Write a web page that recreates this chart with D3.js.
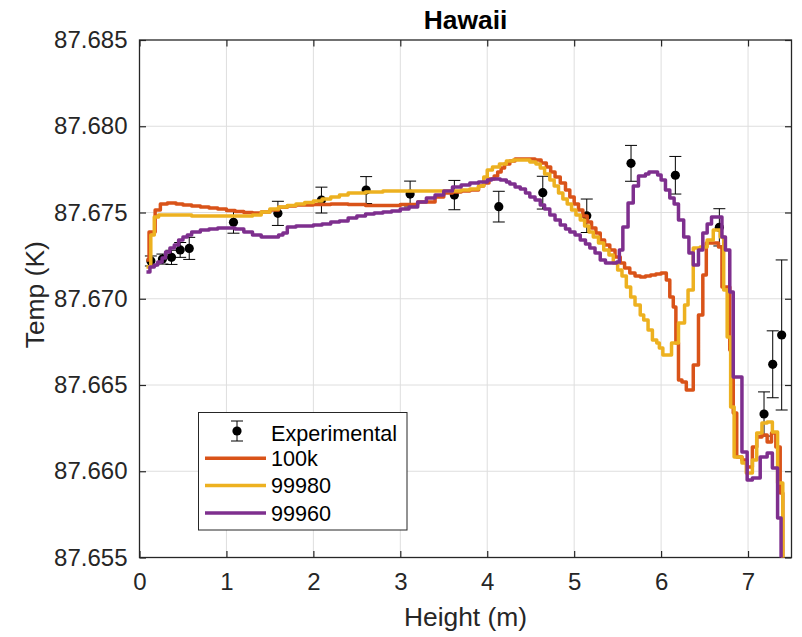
<!DOCTYPE html>
<html>
<head>
<meta charset="utf-8">
<script src="https://cdn.jsdelivr.net/npm/d3@7"></script>
<style>
  body { margin: 0; background: #fff; }
  svg { display: block; font-family: "Liberation Sans", Arial, Helvetica, sans-serif; }
</style>
</head>
<body>
<div id="chart"></div>
<script>
// experimental points (height m, temp K, error K)
const expHeight = [0.131, 0.264, 0.368, 0.468, 0.572, 1.081, 1.592, 2.093, 2.607, 3.113,
  3.622, 4.133, 4.639, 5.145, 5.654, 6.164, 6.670, 7.184, 7.284, 7.387];
const expTemp = [87.67219, 87.67230, 87.67240, 87.67283, 87.67292, 87.67443, 87.67495, 87.67572, 87.67630, 87.67607,
  87.67601, 87.67534, 87.67615, 87.67481, 87.67785, 87.67716, 87.67414, 87.66332, 87.66620, 87.66790];
const expErr = [0.00029, 0.00029, 0.00041, 0.00043, 0.00064, 0.00063, 0.00070, 0.00075, 0.00078, 0.00075,
  0.00085, 0.00089, 0.00095, 0.00097, 0.00104, 0.00109, 0.00108, 0.00128, 0.00194, 0.00435];

// simulated profiles [height, temp]
const run100k = [
  [0.08, 87.67225], [0.11, 87.67387], [0.18, 87.67515], [0.24, 87.67549], [0.32, 87.67555], [0.42, 87.67549],
  [0.5, 87.67543], [0.6, 87.67538], [0.7, 87.67532], [0.8, 87.67526], [0.9, 87.67520], [1.0, 87.67512],
  [1.1, 87.67506], [1.2, 87.67500], [1.3, 87.67497], [1.4, 87.67503], [1.5, 87.67515], [1.6, 87.67530],
  [1.7, 87.67538], [1.8, 87.67543], [2.0, 87.67546], [2.2, 87.67549], [2.4, 87.67546], [2.6, 87.67540],
  [2.8, 87.67540], [3.0, 87.67546], [3.2, 87.67561], [3.4, 87.67590], [3.5, 87.67613], [3.6, 87.67619],
  [3.7, 87.67625], [3.8, 87.67630], [3.9, 87.67654], [3.96, 87.67671], [4.02, 87.67694], [4.08, 87.67712],
  [4.12, 87.67735], [4.16, 87.67758], [4.2, 87.67781], [4.26, 87.67799], [4.32, 87.67810], [4.45, 87.67810],
  [4.55, 87.67804], [4.62, 87.67787], [4.68, 87.67764], [4.73, 87.67735], [4.78, 87.67706], [4.84, 87.67671],
  [4.9, 87.67630], [4.95, 87.67590], [5.0, 87.67549], [5.05, 87.67515], [5.1, 87.67480], [5.15, 87.67445],
  [5.2, 87.67410], [5.25, 87.67381], [5.3, 87.67341], [5.35, 87.67312], [5.41, 87.67283], [5.47, 87.67242],
  [5.53, 87.67207], [5.58, 87.67178], [5.64, 87.67149], [5.7, 87.67132], [5.76, 87.67126], [5.82, 87.67132],
  [5.88, 87.67138], [5.94, 87.67144], [6.0, 87.67149], [6.06, 87.67109], [6.1, 87.67010], [6.14, 87.66952],
  [6.17, 87.66743], [6.2, 87.66529], [6.24, 87.66517], [6.29, 87.66471], [6.37, 87.66616], [6.43, 87.66906],
  [6.48, 87.67138], [6.52, 87.67323], [6.6, 87.67323], [6.66, 87.67300], [6.7, 87.67068], [6.79, 87.66703],
  [6.83, 87.66338], [6.87, 87.66083], [6.93, 87.66065], [6.99, 87.66025], [7.05, 87.66141], [7.1, 87.66199],
  [7.16, 87.66210], [7.22, 87.66170], [7.27, 87.66222], [7.32, 87.66141], [7.37, 87.65874], [7.4, 87.65486]
];
const run99980 = [
  [0.08, 87.67184], [0.13, 87.67370], [0.17, 87.67474], [0.22, 87.67486], [0.4, 87.67486], [0.6, 87.67480],
  [0.8, 87.67480], [1.0, 87.67480], [1.2, 87.67480], [1.3, 87.67486], [1.4, 87.67503], [1.5, 87.67520],
  [1.6, 87.67532], [1.7, 87.67540], [1.8, 87.67549], [1.9, 87.67558], [2.0, 87.67567], [2.1, 87.67578],
  [2.2, 87.67590], [2.3, 87.67601], [2.4, 87.67613], [2.6, 87.67619], [2.8, 87.67625], [3.0, 87.67625],
  [3.2, 87.67625], [3.4, 87.67625], [3.6, 87.67625], [3.7, 87.67630], [3.8, 87.67636], [3.9, 87.67654],
  [3.96, 87.67706], [4.0, 87.67746], [4.06, 87.67764], [4.14, 87.67781], [4.22, 87.67799], [4.3, 87.67804],
  [4.4, 87.67804], [4.49, 87.67793], [4.56, 87.67781], [4.61, 87.67758], [4.66, 87.67723], [4.72, 87.67688],
  [4.77, 87.67654], [4.82, 87.67613], [4.87, 87.67578], [4.92, 87.67549], [4.97, 87.67515], [5.02, 87.67486],
  [5.07, 87.67457], [5.12, 87.67422], [5.17, 87.67387], [5.22, 87.67358], [5.28, 87.67323], [5.34, 87.67283],
  [5.4, 87.67254], [5.45, 87.67207], [5.5, 87.67167], [5.55, 87.67132], [5.6, 87.67068], [5.65, 87.67010],
  [5.7, 87.66964], [5.76, 87.66906], [5.8, 87.66877], [5.85, 87.66819], [5.9, 87.66761], [5.95, 87.66743],
  [5.98, 87.66714], [6.02, 87.66674], [6.12, 87.66743], [6.2, 87.66859], [6.27, 87.66964], [6.31, 87.67051],
  [6.37, 87.67294], [6.45, 87.67300], [6.53, 87.67341], [6.6, 87.67399], [6.68, 87.67358], [6.72, 87.67051],
  [6.76, 87.66778], [6.8, 87.66372], [6.84, 87.66083], [6.93, 87.66048], [6.98, 87.65990], [7.05, 87.66065],
  [7.1, 87.66222], [7.16, 87.66280], [7.22, 87.66286], [7.28, 87.66228], [7.34, 87.65932], [7.4, 87.65486]
];
const run99960 = [
  [0.08, 87.67155], [0.12, 87.67184], [0.17, 87.67196], [0.21, 87.67213], [0.26, 87.67236], [0.3, 87.67271],
  [0.35, 87.67294], [0.4, 87.67312], [0.45, 87.67341], [0.5, 87.67358], [0.55, 87.67370], [0.6, 87.67387],
  [0.7, 87.67399], [0.8, 87.67404], [0.9, 87.67410], [1.0, 87.67410], [1.1, 87.67404], [1.2, 87.67387],
  [1.3, 87.67370], [1.4, 87.67358], [1.5, 87.67358], [1.6, 87.67370], [1.65, 87.67381], [1.7, 87.67416],
  [1.8, 87.67422], [1.9, 87.67422], [2.0, 87.67428], [2.1, 87.67433], [2.2, 87.67445], [2.3, 87.67451],
  [2.4, 87.67468], [2.5, 87.67480], [2.6, 87.67491], [2.7, 87.67497], [2.8, 87.67503], [2.9, 87.67509],
  [3.0, 87.67520], [3.1, 87.67532], [3.2, 87.67561], [3.3, 87.67584], [3.4, 87.67601], [3.5, 87.67625],
  [3.6, 87.67648], [3.7, 87.67659], [3.8, 87.67671], [3.9, 87.67677], [4.0, 87.67688], [4.05, 87.67694],
  [4.15, 87.67688], [4.22, 87.67677], [4.26, 87.67665], [4.32, 87.67648], [4.38, 87.67636], [4.44, 87.67613],
  [4.49, 87.67590], [4.55, 87.67572], [4.61, 87.67543], [4.66, 87.67520], [4.72, 87.67486], [4.78, 87.67457],
  [4.84, 87.67428], [4.9, 87.67404], [4.95, 87.67387], [5.01, 87.67370], [5.07, 87.67341], [5.13, 87.67317],
  [5.18, 87.67294], [5.24, 87.67265], [5.3, 87.67225], [5.36, 87.67207], [5.49, 87.67213], [5.52, 87.67283],
  [5.56, 87.67416], [5.62, 87.67555], [5.68, 87.67654], [5.74, 87.67712], [5.82, 87.67723], [5.86, 87.67735],
  [5.96, 87.67717], [6.0, 87.67688], [6.05, 87.67630], [6.1, 87.67584], [6.15, 87.67549], [6.2, 87.67457],
  [6.26, 87.67358], [6.32, 87.67265], [6.37, 87.67196], [6.43, 87.67283], [6.48, 87.67381], [6.53, 87.67433],
  [6.58, 87.67474], [6.7, 87.67358], [6.74, 87.67283], [6.79, 87.67039], [6.83, 87.66546], [6.93, 87.66112],
  [6.99, 87.65949], [7.05, 87.65961], [7.14, 87.66083], [7.22, 87.66106], [7.28, 87.66019], [7.34, 87.65729],
  [7.38, 87.65486]
];

const seriesNames = ["100k", "99980", "99960"];
const seriesColors = ["#D95319", "#EDB120", "#7E2F8E"];
const xTicks = [0, 1, 2, 3, 4, 5, 6, 7];
const yTicks = [87.655, 87.66, 87.665, 87.67, 87.675, 87.68, 87.685];

const width = 802, height = 637;
const margin = { top: 40, right: 10.5, bottom: 79.5, left: 139.5 };
const plotW = width - margin.left - margin.right;
const plotH = height - margin.top - margin.bottom;
const axisColor = "#262626";
const tickLen = 6.5;

const svg = d3.select("#chart").append("svg")
  .attr("width", width)
  .attr("height", height);

const x = d3.scaleLinear().domain([0, 7.5]).range([0, plotW]);
const y = d3.scaleLinear().domain([87.655, 87.685]).range([plotH, 0]);

const g = svg.append("g").attr("transform", `translate(${margin.left},${margin.top})`);

g.append("defs").append("clipPath").attr("id", "plot-clip")
  .append("rect").attr("width", plotW).attr("height", plotH);

// grid
g.append("g").selectAll("line.vgrid").data(xTicks.slice(1)).enter().append("line")
  .attr("x1", d => x(d)).attr("x2", d => x(d))
  .attr("y1", 0).attr("y2", plotH)
  .attr("stroke", "#dedede").attr("stroke-width", 1);
g.append("g").selectAll("line.hgrid").data(yTicks.slice(1, -1)).enter().append("line")
  .attr("x1", 0).attr("x2", plotW)
  .attr("y1", d => y(d)).attr("y2", d => y(d))
  .attr("stroke", "#dedede").attr("stroke-width", 1);

// axes
const xAxis = g.append("g").attr("transform", `translate(0,${plotH})`)
  .call(d3.axisBottom(x).tickValues(xTicks).tickFormat(d3.format("d"))
    .tickSizeInner(-tickLen).tickSizeOuter(0).tickPadding(15));
const yAxis = g.append("g")
  .call(d3.axisLeft(y).tickValues(yTicks).tickFormat(d3.format(".3f"))
    .tickSizeInner(-tickLen).tickSizeOuter(0).tickPadding(12));
const xTop = g.append("g")
  .call(d3.axisTop(x).tickValues(xTicks).tickFormat("").tickSizeInner(-tickLen).tickSizeOuter(0));
const yRight = g.append("g").attr("transform", `translate(${plotW},0)`)
  .call(d3.axisRight(y).tickValues(yTicks).tickFormat("").tickSizeInner(-tickLen).tickSizeOuter(0));

[xAxis, yAxis, xTop, yRight].forEach(a => {
  a.select(".domain").remove();
  a.selectAll(".tick line").attr("stroke", axisColor).attr("stroke-width", 1.2);
  a.selectAll(".tick text").attr("fill", axisColor).attr("font-size", 24)
    .attr("font-family", "'Liberation Sans', Arial, sans-serif");
});

g.append("rect")
  .attr("width", plotW).attr("height", plotH)
  .attr("fill", "none").attr("stroke", axisColor).attr("stroke-width", 1.3);

// experimental error bars
const expData = expHeight.map((h, i) => ({ h: h, t: expTemp[i], e: expErr[i] }));
const capHalf = 6;
const eb = g.append("g").attr("clip-path", "url(#plot-clip)")
  .selectAll("g").data(expData).enter().append("g");
eb.append("line")
  .attr("x1", d => x(d.h)).attr("x2", d => x(d.h))
  .attr("y1", d => y(d.t - d.e)).attr("y2", d => y(d.t + d.e))
  .attr("stroke", "#000").attr("stroke-width", 1);
eb.append("line")
  .attr("x1", d => x(d.h) - capHalf).attr("x2", d => x(d.h) + capHalf)
  .attr("y1", d => y(d.t - d.e)).attr("y2", d => y(d.t - d.e))
  .attr("stroke", "#000").attr("stroke-width", 1);
eb.append("line")
  .attr("x1", d => x(d.h) - capHalf).attr("x2", d => x(d.h) + capHalf)
  .attr("y1", d => y(d.t + d.e)).attr("y2", d => y(d.t + d.e))
  .attr("stroke", "#000").attr("stroke-width", 1);
eb.append("circle")
  .attr("cx", d => x(d.h)).attr("cy", d => y(d.t)).attr("r", 4.6)
  .attr("fill", "#000");

// model lines
const line = d3.line()
  .x(d => x(d[0]))
  .y(d => y(d[1]))
  .curve(d3.curveStepAfter);

const runs = [run100k, run99980, run99960];
g.append("g").attr("clip-path", "url(#plot-clip)")
  .selectAll("path").data(runs).enter().append("path")
  .attr("d", d => line(d))
  .attr("fill", "none")
  .attr("stroke", (d, i) => seriesColors[i])
  .attr("stroke-width", 3.5)
  .attr("stroke-linejoin", "round");

// title and labels
svg.append("text")
  .attr("x", margin.left + plotW / 2).attr("y", 29)
  .attr("text-anchor", "middle")
  .attr("font-size", 26.4).attr("font-weight", "bold")
  .attr("fill", "#000")
  .text("Hawaii");

svg.append("text")
  .attr("x", margin.left + plotW / 2).attr("y", 626)
  .attr("text-anchor", "middle")
  .attr("font-size", 26.4).attr("fill", axisColor)
  .text("Height (m)");

svg.append("text")
  .attr("transform", `translate(44,${margin.top + plotH / 2 - 4}) rotate(-90)`)
  .attr("text-anchor", "middle")
  .attr("font-size", 26.4).attr("fill", axisColor)
  .text("Temp (K)");

// legend
const legend = svg.append("g").attr("transform", "translate(198.5,412.5)");
legend.append("rect")
  .attr("width", 208.5).attr("height", 117.5)
  .attr("fill", "#fff").attr("stroke", axisColor).attr("stroke-width", 1);

const rowY = [18.5, 45.8, 73.1, 100.4];
const iconX = 38.5;
legend.append("line")
  .attr("x1", iconX).attr("x2", iconX).attr("y1", rowY[0] - 10).attr("y2", rowY[0] + 10)
  .attr("stroke", "#000").attr("stroke-width", 1);
[-10, 10].forEach(dy => {
  legend.append("line")
    .attr("x1", iconX - 6).attr("x2", iconX + 6)
    .attr("y1", rowY[0] + dy).attr("y2", rowY[0] + dy)
    .attr("stroke", "#000").attr("stroke-width", 1);
});
legend.append("circle").attr("cx", iconX).attr("cy", rowY[0]).attr("r", 4.6).attr("fill", "#000");

seriesNames.forEach((name, i) => {
  legend.append("line")
    .attr("x1", 6.5).attr("x2", 67.5)
    .attr("y1", rowY[i + 1]).attr("y2", rowY[i + 1])
    .attr("stroke", seriesColors[i]).attr("stroke-width", 3.5);
});

legend.selectAll("text.entry").data(["Experimental"].concat(seriesNames)).enter().append("text")
  .attr("x", 72.5)
  .attr("y", (d, i) => rowY[i] + 7.7 + (i === 0 ? 2 : 0))
  .attr("font-size", 21.6).attr("fill", "#000")
  .text(d => d);
</script>
</body>
</html>
